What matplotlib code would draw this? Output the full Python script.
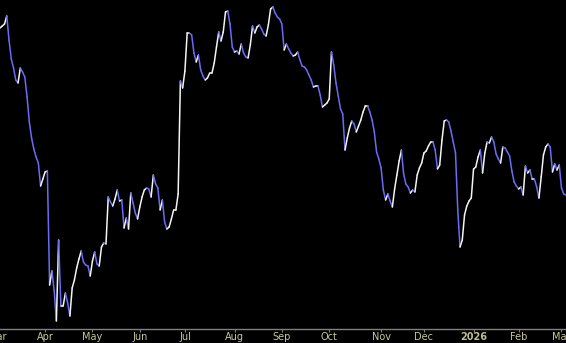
import numpy as np
import pandas as pd
import matplotlib
matplotlib.use("Agg")
import matplotlib.pyplot as plt
from matplotlib.collections import LineCollection

# daily closes, one per trading day starting 2025-03-04 (arbitrary units)
close = [
    302, 304, 306, 314, 290, 271, 262, 250, 247, 262, 258, 253, 233, 208, 192, 181, 173, 167, 144, 151,
    158, 159, 45, 59, 40, 9, 90, 24, 24, 37, 27, 14, 42, 50, 62, 71, 79, 68, 65, 64,
    54, 69, 78, 66, 64, 83, 87, 86, 133, 128, 124, 131, 140, 129, 130, 102, 112, 101, 137, 127,
    117, 111, 123, 133, 140, 142, 141, 133, 155, 146, 142, 120, 130, 108, 101, 103, 111, 120, 120, 136,
    249, 242, 259, 297, 297, 295, 277, 268, 275, 260, 254, 250, 252, 257, 257, 267, 283, 298, 289, 298,
    318, 319, 306, 283, 278, 279, 276, 286, 277, 273, 272, 285, 304, 297, 303, 305, 301, 296, 294, 305,
    321, 323, 317, 313, 311, 306, 280, 286, 281, 277, 274, 275, 278, 270, 264, 263, 260, 255, 250, 243,
    244, 244, 235, 223, 225, 227, 231, 278, 265, 247, 234, 221, 216, 180, 192, 202, 209, 206, 198, 204,
    210, 218, 224, 224, 218, 210, 198, 178, 171, 162, 140, 130, 136, 129, 123, 141, 155, 169, 180, 156,
    146, 143, 137, 140, 138, 155, 162, 167, 177, 179, 184, 188, 188, 180, 161, 165, 190, 209, 210, 208,
    199, 188, 177, 120, 83, 90, 115, 124, 129, 132, 161, 163, 173, 180, 157, 177, 188, 187, 193, 188,
    176, 171, 167, 183, 182, 178, 174, 159, 148, 144, 141, 143, 135, 164, 157, 160, 151, 151, 143, 132,
    153, 175, 183, 186, 183, 158, 166, 160, 165, 142, 136, 135,
]

holidays = ["2025-04-18", "2025-05-26", "2025-06-19", "2025-07-04", "2025-09-01",
            "2025-11-27", "2025-12-25", "2026-01-01", "2026-01-19", "2026-02-16"]
month_names = ["Jan", "Feb", "Mar", "Apr", "May", "Jun", "Jul", "Aug", "Sep", "Oct", "Nov", "Dec"]

days = pd.bdate_range("2025-03-03", "2026-03-10")
days = days[~days.isin(pd.to_datetime(holidays))]
pos = np.arange(len(days)) - 1   # 2025-03-04 is position 0

y = np.array(close, dtype=float)
x = np.arange(len(y))

fig = plt.figure(figsize=(5.66, 3.43), dpi=100, facecolor="black")
ax = fig.add_axes([0, 14 / 343, 1, 1 - 14 / 343])
ax.set_facecolor("black")

pts = np.column_stack([x, y]).reshape(-1, 1, 2)
segs = np.concatenate([pts[:-1], pts[1:]], axis=1)
cols = ["#f4f4f4" if b >= a else "#6b6bf5" for a, b in zip(y[:-1], y[1:])]
ax.add_collection(LineCollection(segs, colors=cols, linewidths=1.1, capstyle="round"))

ax.set_xlim(0, 251)
ax.set_ylim(1, 330)

for s in ["top", "left", "right"]:
    ax.spines[s].set_visible(False)
ax.spines["bottom"].set_color("#808080")
ax.spines["bottom"].set_linewidth(1.0)
ax.set_yticks([])

# month starts
mpos, mlab, mbold = [], [], []
prev = None
for d, p in zip(days, pos):
    if d.month != prev:
        prev = d.month
        if p < -1 or p > 252:
            continue
        mpos.append(p)
        if d.month == 1:
            mlab.append(str(d.year))
            mbold.append(True)
        else:
            mlab.append(month_names[d.month - 1])
            mbold.append(False)

ax.set_xticks([p for p in mpos if 0 <= p <= 251])
ax.set_xticklabels([])
ax.tick_params(axis="x", colors="#808080", length=2, width=0.8, direction="out")

for p, lab, b in zip(mpos, mlab, mbold):
    ax.text(p, -7.5, lab, transform=ax.transData, ha="center", va="center",
            fontsize=7, color="#c8c896" if not b else "#bebe8c",
            fontweight="bold" if b else "normal", clip_on=False)

fig.savefig("out.png", dpi=100, facecolor="black")
